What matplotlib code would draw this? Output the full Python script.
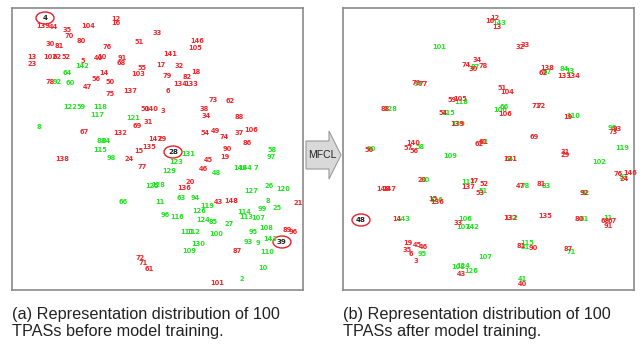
import matplotlib
matplotlib.use("Agg")
import matplotlib.pyplot as plt
from matplotlib.patches import Ellipse, Polygon

# ---------------- data: (label, x, y) in embedding coordinates ----------------
# Panel (a): before training
a_red_labels = ["12","16","139","44","104","35","70","33","80","146","51","30","81","76","105","141",
                "13","23","102","62","52","40","10","91","68","5","17","32","55","18","103","14","79",
                "82","56","78","50","134","133","47","6","137","75","73","62","50","140","3","38","34",
                "88","31","69","106","49","67","132","54","37","74","147","29","86","135","90","15",
                "19","24","138","45","77","46","20","136","148","43","21","89","96","87","72","71",
                "61","101"]
a_red_x = [116,116,43,53,88,67,69,157,81,197,139,50,59,107,195,170,32,32,50,57,66,98,102,122,121,83,
           161,179,142,196,138,104,167,187,96,50,110,180,191,87,168,130,110,213,230,145,151,163,204,
           206,239,148,137,251,215,84,120,205,239,224,155,162,247,149,227,139,225,129,62,208,142,203,
           190,184,231,218,298,287,293,237,140,143,149,217]
a_red_y = [19,23,26,27,26,30,36,33,41,41,42,44,46,47,48,54,57,64,57,57,57,58,57,58,63,61,65,66,68,72,
           74,73,76,77,79,82,82,84,84,87,91,91,94,100,101,109,109,111,109,116,117,122,126,130,131,132,
           133,133,133,137,139,139,143,147,149,151,157,159,159,160,167,169,182,188,201,202,203,230,
           232,251,258,263,269,283]

a_green_labels = ["142","64","92","60","122","59","118","117","121","8","88","84","115","131","58","98",
                  "97","123","149","144","7","129","48","125","128","26","120","127","63","94","66",
                  "11","8","119","25","99","126","114","96","116","113","107","124","85","27","108",
                  "111","112","95","100","143","93","9","130","109","110","10","2"]
a_green_x = [82,67,57,70,70,81,100,97,133,39,101,106,100,188,272,111,271,176,240,245,256,169,216,152,
             158,269,283,251,181,195,123,160,268,207,277,262,199,244,165,177,246,258,203,213,229,266,
             187,193,253,216,270,248,258,198,189,267,263,242]
a_green_y = [66,73,82,83,107,107,107,115,118,127,141,141,150,154,150,158,157,162,168,168,168,171,173,
             186,185,186,189,191,198,198,202,202,201,206,208,209,211,212,215,217,217,218,220,222,224,
             228,232,232,232,234,239,242,243,244,251,252,268,279]

a_mark_labels = ["4", "28", "39"]
a_mark_x = [45, 173, 282]
a_mark_y = [18, 152, 242]

# Panel (b): after training
b_red_labels = ["16","12","13","33","32","34","74","78","30","138","62","134","133","79","77","51",
                "104","59","105","71","72","88","106","54","19","139","93","73","69","140","61","62",
                "57","56","50","31","29","121","146","76","24","20","17","52","81","47","137","148",
                "147","53","92","15","136","135","14","80","68","67","33","91","19","45","46","81",
                "90","87","35","6","3","43","40","132"]
b_red_x = [490,495,497,525,520,477,466,483,473,547,543,573,564,416,423,502,507,452,460,536,541,385,
           505,443,568,457,617,613,534,413,483,479,408,414,369,565,565,510,630,618,624,422,474,484,
           541,520,468,383,389,480,584,433,437,545,397,579,605,612,458,608,408,417,423,521,533,568,
           407,411,416,461,522,510]
b_red_y = [21,18,27,45,47,60,65,66,69,68,73,76,76,83,84,88,92,100,99,106,106,109,114,113,117,124,129,
           132,137,143,142,144,148,151,150,152,155,159,173,174,179,180,181,184,184,186,187,189,189,
           193,193,199,202,216,219,219,221,221,223,226,243,245,247,246,248,249,250,254,261,274,284,218]

b_green_labels = ["143","101","87","67","84","13","97","118","66","106","128","115","110","96","139",
                  "81","58","90","119","109","102","64","33","80","117","78","83","51","92","126",
                  "143","106","132","107","142","61","11","115","31","71","95","107","108","124",
                  "126","41"]
b_green_x = [499,439,475,547,564,570,418,461,504,500,390,448,573,612,458,484,420,371,622,450,599,509,
             623,425,468,525,546,483,585,436,403,465,511,463,472,584,608,527,525,571,422,485,458,463,
             471,522]
b_green_y = [23,47,67,72,69,71,84,102,107,110,109,113,116,128,124,142,147,149,148,156,162,159,177,180,
             182,186,186,191,193,200,219,219,218,227,227,219,218,243,247,252,254,257,267,266,271,279]

b_mark_labels = ["48"]
b_mark_x = [361]
b_mark_y = [220]

captions = ["(a) Representation distribution of 100\nTPASs before model training.",
            "(b) Representation distribution of 100\nTPASs after model training."]

RED = "#f0262b"
GREEN = "#22e322"
FS = 4.8

fig = plt.figure(figsize=(6.44, 3.5), dpi=100)
W, H = 644.0, 350.0


def make_axes(x0, x1, y0, y1):
    ax = fig.add_axes([x0 / W, 1 - y1 / H, (x1 - x0) / W, (y1 - y0) / H])
    ax.set_xlim(x0, x1)
    ax.set_ylim(y1, y0)
    ax.set_xticks([])
    ax.set_yticks([])
    for s in ax.spines.values():
        s.set_color("#8a8a8a")
        s.set_linewidth(1.2)
    return ax


def draw_panel(ax, rl, rx, ry, gl, gx, gy, ml, mx, my):
    for t, x, y in zip(gl, gx, gy):
        ax.text(x, y, t, color=GREEN, fontsize=FS, fontweight="bold",
                ha="center", va="center", family="DejaVu Sans")
    for t, x, y in zip(rl, rx, ry):
        ax.text(x, y, t, color=RED, fontsize=FS, fontweight="bold",
                ha="center", va="center", family="DejaVu Sans")
    for t, x, y in zip(ml, mx, my):
        ax.text(x, y, t, color="#222222", fontsize=FS + 0.3, fontweight="bold",
                ha="center", va="center", family="DejaVu Sans")
        ax.add_patch(Ellipse((x, y), 18, 12, fill=False, edgecolor="#e8202a", lw=1.0))


axA = make_axes(12, 303, 7.7, 290)
draw_panel(axA, a_red_labels, a_red_x, a_red_y, a_green_labels, a_green_x, a_green_y,
           a_mark_labels, a_mark_x, a_mark_y)
axB = make_axes(343, 634, 7.7, 290)
draw_panel(axB, b_red_labels, b_red_x, b_red_y, b_green_labels, b_green_x, b_green_y,
           b_mark_labels, b_mark_x, b_mark_y)

# overlay for arrow and captions (pixel coordinates)
ov = fig.add_axes([0, 0, 1, 1], zorder=-1)
ov.set_xlim(0, W)
ov.set_ylim(H, 0)
ov.axis("off")
arrow = Polygon([(306, 141), (329, 141), (329, 131), (341, 155), (329, 179), (329, 169), (306, 169)],
                closed=True, facecolor="#d9d9d9", edgecolor="#9a9a9a", lw=0.8)
ov.add_patch(arrow)
ov.text(322, 155, "MFCL", fontsize=7.5, ha="center", va="center", color="#222222",
        family="Liberation Sans")

ov.text(12, 323, captions[0], fontsize=11.7, ha="left", va="center", color="#222222",
        family="Liberation Sans", linespacing=1.2)
ov.text(343, 323, captions[1], fontsize=11.7, ha="left", va="center", color="#222222",
        family="Liberation Sans", linespacing=1.2)

fig.savefig("out.png", dpi=100)
